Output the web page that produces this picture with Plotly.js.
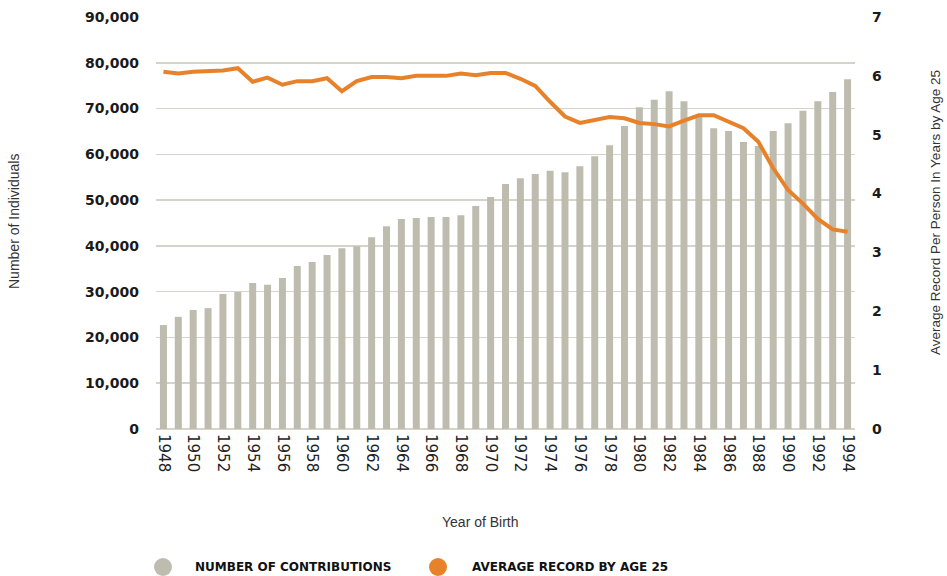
<!DOCTYPE html>
<html>
<head>
<meta charset="utf-8">
<script src="https://cdn.plot.ly/plotly-3.0.1.min.js"></script>
<style>html,body{margin:0;padding:0;background:#fff;}#chart{width:947px;height:576px;}</style>
</head>
<body>
<div id="chart"></div>
<script>
const years = [1948,1949,1950,1951,1952,1953,1954,1955,1956,1957,1958,1959,1960,1961,1962,1963,1964,1965,1966,1967,1968,1969,1970,1971,1972,1973,1974,1975,1976,1977,1978,1979,1980,1981,1982,1983,1984,1985,1986,1987,1988,1989,1990,1991,1992,1993,1994];
const contributions = [22700,24500,26000,26400,29500,29900,31900,31500,33000,35600,36500,38000,39500,39900,41900,44300,45900,46100,46300,46300,46700,48700,50700,53500,54800,55700,56400,56100,57400,59600,62000,66200,70300,71900,73800,71600,68600,65700,65100,62700,61800,65100,66800,69500,71600,73600,76400];
const avgRecord = [6.07,6.04,6.07,6.08,6.09,6.13,5.90,5.97,5.85,5.91,5.91,5.96,5.74,5.91,5.98,5.98,5.96,6.00,6.00,6.00,6.04,6.01,6.05,6.05,5.95,5.83,5.56,5.31,5.20,5.25,5.30,5.28,5.20,5.18,5.14,5.24,5.33,5.33,5.22,5.11,4.88,4.43,4.06,3.83,3.57,3.39,3.35];
const seriesNames = ["NUMBER OF CONTRIBUTIONS", "AVERAGE RECORD BY AGE 25"];
const xTitle = "Year of Birth";
const yTitle = "Number of Individuals";
const y2Title = "Average Record Per Person In Years by Age 25";

const GRAY = "#BEBCAE";
const ORANGE = "#E8822A";
const GRID = "#D6D4CA";

const traces = [
  {type: "bar", x: years, y: contributions, name: seriesNames[0], marker: {color: GRAY}, showlegend: false, hoverinfo: "x+y"},
  {type: "scatter", mode: "lines", x: years, y: avgRecord, name: seriesNames[1], yaxis: "y2", line: {color: ORANGE, width: 4}, showlegend: false}
];

const tickFontBold = {family: "DejaVu Sans", size: 14, color: "#1a1a1a", weight: 700};
const W = 699, H = 412, L = 156, T = 17;
function px(x){ return (x - L) / W; }
function py(y){ return (T + H - y) / H; }

const layout = {
  width: 947, height: 576,
  margin: {l: 156, r: 92, t: 17, b: 147},
  paper_bgcolor: "#fff", plot_bgcolor: "#fff",
  bargap: 0.53,
  xaxis: {
    range: [1947.5, 1994.5], tick0: 1948, dtick: 2, tickangle: 90,
    showgrid: false, zeroline: false, showline: false, ticks: "",
    tickfont: {family: "DejaVu Sans", size: 15, color: "#222"},
    ticklabelstandoff: 4
  },
  yaxis: {
    range: [0, 90000], dtick: 10000, tickformat: ",d",
    showgrid: true, gridcolor: GRID, gridwidth: 1.5,
    zeroline: true, zerolinecolor: GRID, zerolinewidth: 1.5,
    showline: false, ticks: "", tickfont: tickFontBold, ticklabelstandoff: 16
  },
  yaxis2: {
    overlaying: "y", side: "right", range: [0, 7], dtick: 1,
    showgrid: false, zeroline: false, showline: false, ticks: "",
    tickfont: tickFontBold, ticklabelstandoff: 16
  },
  shapes: [
    {type: "circle", xref: "paper", yref: "paper", xsizemode: "pixel", ysizemode: "pixel",
     xanchor: px(163), yanchor: py(567), x0: -9, x1: 9, y0: -9, y1: 9, fillcolor: GRAY, line: {width: 0}},
    {type: "circle", xref: "paper", yref: "paper", xsizemode: "pixel", ysizemode: "pixel",
     xanchor: px(438), yanchor: py(567), x0: -9, x1: 9, y0: -9, y1: 9, fillcolor: ORANGE, line: {width: 0}}
  ],
  annotations: [
    {text: seriesNames[0], xref: "paper", yref: "paper", x: px(193), y: py(567), xanchor: "left", yanchor: "middle", showarrow: false,
     font: {family: "DejaVu Sans", size: 12, color: "#111", weight: 700}},
    {text: seriesNames[1], xref: "paper", yref: "paper", x: px(470), y: py(567), xanchor: "left", yanchor: "middle", showarrow: false,
     font: {family: "DejaVu Sans", size: 12, color: "#111", weight: 700}},
    {text: xTitle, xref: "paper", yref: "paper", x: px(480), y: py(522), xanchor: "center", yanchor: "middle", showarrow: false,
     font: {family: "Liberation Sans", size: 14, color: "#333"}},
    {text: yTitle, xref: "paper", yref: "paper", x: px(14), y: py(222), xanchor: "center", yanchor: "middle", textangle: -90, showarrow: false,
     font: {family: "Liberation Sans", size: 14, color: "#333"}},
    {text: y2Title, xref: "paper", yref: "paper", x: px(935), y: py(213), xanchor: "center", yanchor: "middle", textangle: -90, showarrow: false,
     font: {family: "Liberation Sans", size: 13.5, color: "#333"}}
  ],
  showlegend: false
};

Plotly.newPlot("chart", traces, layout, {displayModeBar: false, staticPlot: true});
</script>
</body>
</html>
